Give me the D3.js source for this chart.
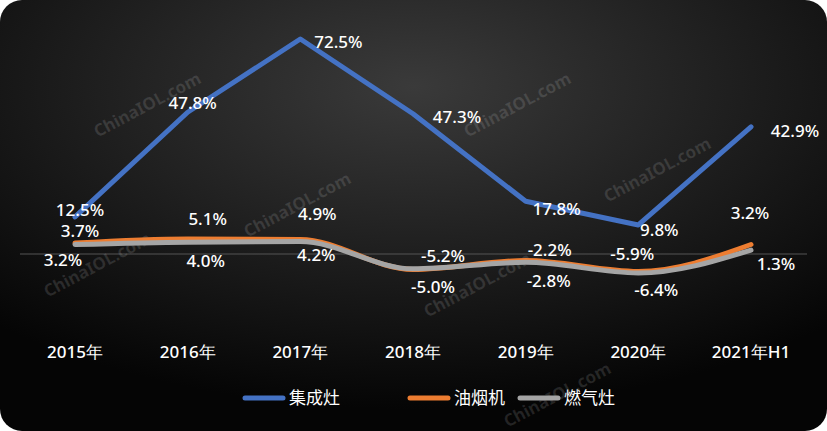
<!DOCTYPE html><html><head><meta charset="utf-8"><script src="https://cdn.jsdelivr.net/npm/d3@7"></script>
<style>body{margin:0;background:#fff}svg{display:block}</style></head><body><svg width="827" height="431"></svg>
<script>
const categories=["2015年","2016年","2017年","2018年","2019年","2020年","2021年H1"];
const jcz=[12.5,47.8,72.5,47.3,17.8,9.8,42.9];
const yyj=[3.7,5.1,4.9,-5.2,-2.2,-5.9,3.2];
const rqz=[3.2,4.0,4.2,-5.0,-2.8,-6.4,1.3];
const seriesNames=["集成灶","油烟机","燃气灶"];
const colors=["#4472C4","#ED7D31","#A5A5A5"];
const svg=d3.select("svg");
const defs=svg.append("defs");
const g=defs.append("radialGradient").attr("id","bg").attr("cx","50%").attr("cy","20%").attr("r","75%");
g.append("stop").attr("offset","0%").attr("stop-color","#3a3a3a");
g.append("stop").attr("offset","100%").attr("stop-color","#050505");
svg.append("rect").attr("width",827).attr("height",431).attr("rx",22).attr("fill","url(#bg)");
const x=d3.scalePoint().domain(categories).range([75,751]);
const y=d3.scaleLinear().domain([0,72.5]).range([254,39]);
svg.append("line").attr("x1",20).attr("x2",807).attr("y1",y(0)).attr("y2",y(0)).attr("stroke","#555").attr("stroke-width",1);
[[150,110],[520,110],[300,210],[660,175],[100,270],[480,290],[560,400]].forEach(([a,b])=>svg.append("text").attr("transform",`translate(${a},${b}) rotate(-28)`).attr("fill","rgba(255,255,255,0.12)").attr("font-family","Noto Sans").attr("font-weight","bold").attr("font-size",17).attr("text-anchor","middle").text("ChinaIOL.com"));
const font="Noto Sans";
const lineStraight=d3.line().x((d,i)=>x(categories[i])).y(d=>y(d));
const lineSmooth=d3.line().x((d,i)=>x(categories[i])).y(d=>y(d)).curve(d3.curveMonotoneX);
svg.append("path").attr("d",lineSmooth(yyj)).attr("fill","none").attr("stroke",colors[1]).attr("stroke-width",5).attr("stroke-linecap","round");
svg.append("path").attr("d",lineSmooth(rqz)).attr("fill","none").attr("stroke",colors[2]).attr("stroke-width",5).attr("stroke-linecap","round");
svg.append("path").attr("d",lineStraight(jcz)).attr("fill","none").attr("stroke",colors[0]).attr("stroke-width",5).attr("stroke-linejoin","round").attr("stroke-linecap","round");
const lab=(px,py,t)=>svg.append("text").attr("x",px).attr("y",py+6).attr("fill","#fff").attr("font-family",font).attr("font-weight",500).attr("font-size",17).attr("text-anchor","middle").text(t);
const offB=[[5,-7],[5,-9],[38,3],[44,3],[31,8],[21,5],[44,4]];
const offO=[[5,-12],[20,-20],[17,-25],[30,-13],[24,-11],[-6,-17],[-1,-32]];
const offG=[[-12,15],[18,19],[16,13],[20,18],[23,19],[18,17],[25,14]];
[[jcz,offB],[yyj,offO],[rqz,offG]].forEach(([s,o])=>s.forEach((v,i)=>lab(x(categories[i])+o[i][0],y(v)+o[i][1],v.toFixed(1)+"%")));
svg.append("g").selectAll("text").data(categories).join("text").attr("x",d=>x(d)).attr("y",358).attr("fill","#fff").attr("font-family",font).attr("font-weight",500).attr("font-size",17).attr("text-anchor","middle").text(d=>d);
const lx=[245,410,520];
seriesNames.forEach((n,i)=>{svg.append("line").attr("x1",lx[i]).attr("x2",lx[i]+38).attr("y1",398).attr("y2",398).attr("stroke",colors[i]).attr("stroke-width",5).attr("stroke-linecap","round");
svg.append("text").attr("x",lx[i]+44).attr("y",404).attr("fill","#fff").attr("font-family","Noto Sans CJK SC").attr("font-size",17).text(n);});
</script></body></html>
